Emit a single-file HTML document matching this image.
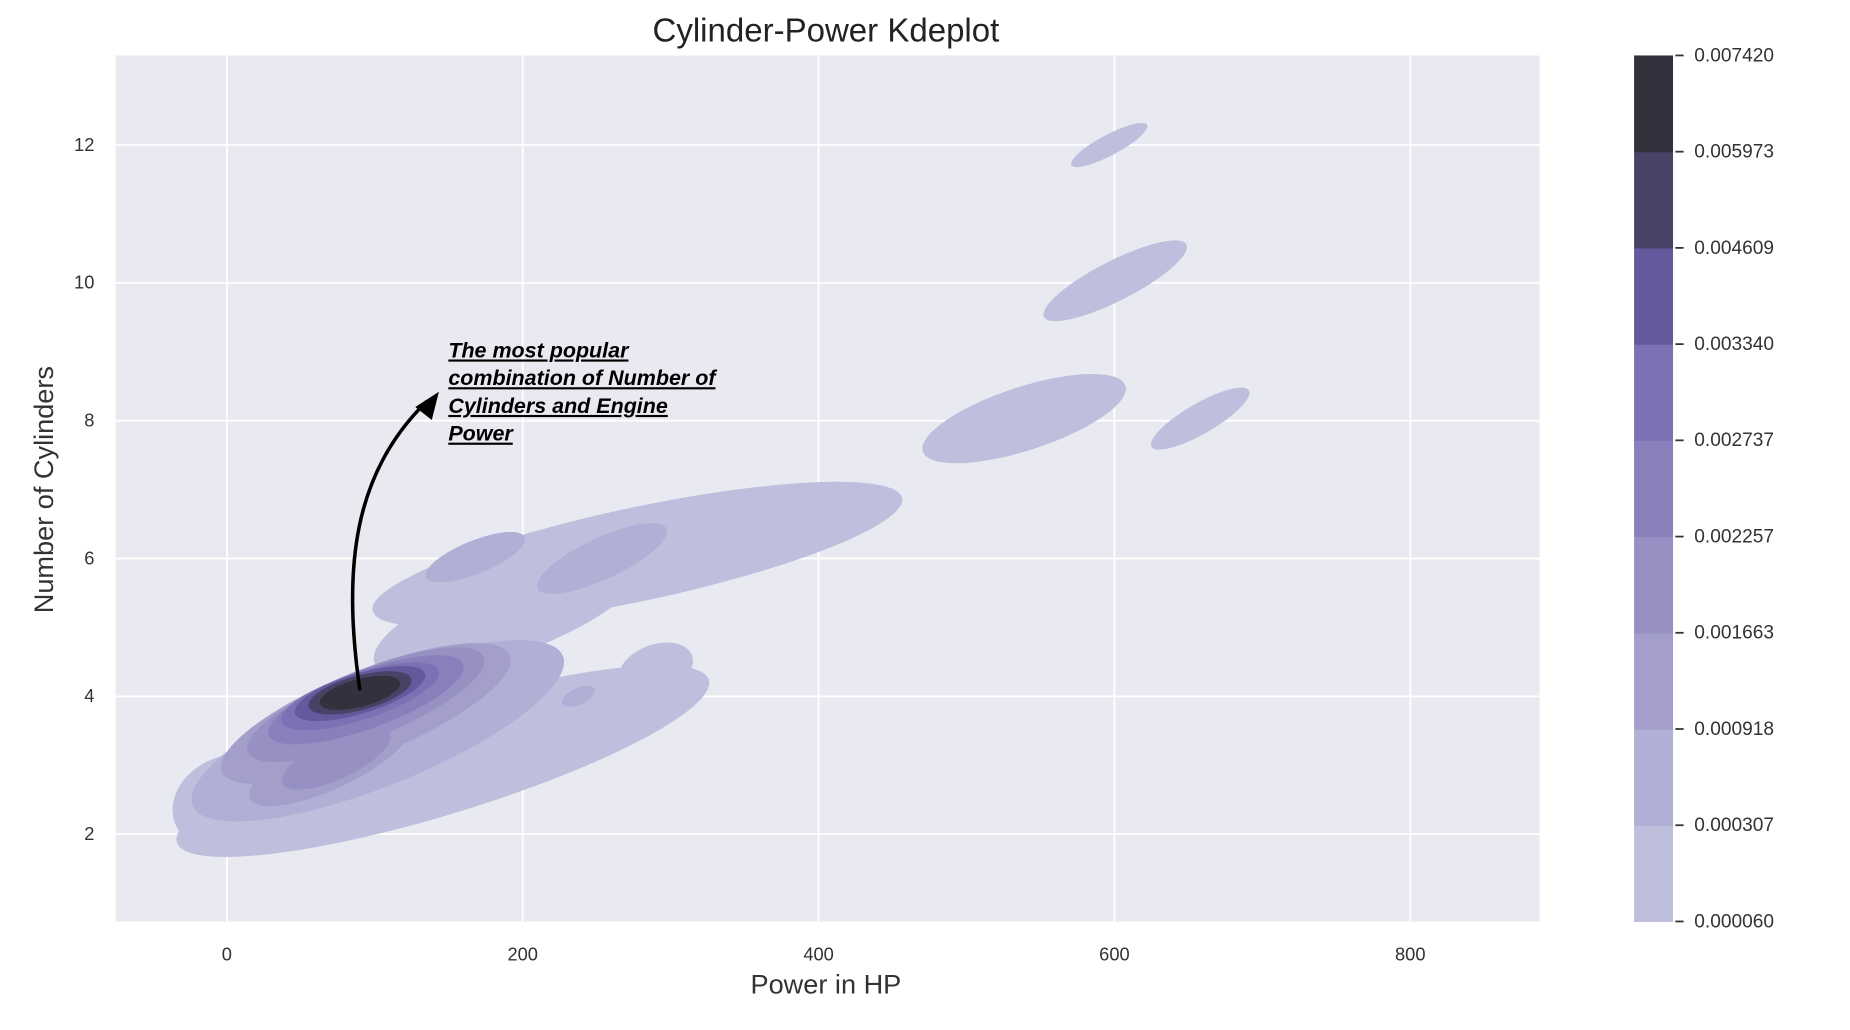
<!DOCTYPE html>
<html><head><meta charset="utf-8"><style>
html,body{margin:0;padding:0;background:#fff;}
svg{display:block;font-family:"Liberation Sans",sans-serif;}
</style></head><body>
<svg id="chart" width="1850" height="1030" viewBox="0 0 1568 873" preserveAspectRatio="none" xmlns="http://www.w3.org/2000/svg"></svg>
<script>
// ---- data ----
const xTicks = [0, 200, 400, 600, 800];
const yTicks = [2, 4, 6, 8, 10, 12];
const levelValues = ["0.000060","0.000307","0.000918","0.001663","0.002257","0.002737","0.003340","0.004609","0.005973","0.007420"];
const levelColors = ["#bebedd","#b1afd5","#a39fca","#9690c3","#8980bb","#7b71b4","#65599e","#4a4167","#33313e"];
// blobs: hp, cylinders, rx (HP), ry (cylinders), angle, level
const blobHp   = [146, 2.4, 277.5, 290, 190, 596.5, 600.5, 539, 658, 168, 253.6, 237.6, 102, 94, 70, 94, 74, 94, 90, 90, 90, 90];
const blobCyl  = [3.06, 2.46, 6.06, 4.4, 5.2, 12.0, 10.03, 8.03, 8.03, 6.02, 6.0, 4.0, 3.5, 3.75, 3.06, 3.88, 3.1, 3.95, 4.0, 4.04, 4.05, 4.05];
const blobRx   = [188, 40, 183, 26, 96, 29, 54, 72, 38, 36, 48, 12, 135, 105, 60, 86, 40, 70, 56, 46, 36, 28];
const blobRy   = [0.77, 0.68, 0.68, 0.35, 0.6, 0.15, 0.29, 0.46, 0.22, 0.24, 0.3, 0.12, 0.8, 0.62, 0.4, 0.5, 0.3, 0.42, 0.34, 0.29, 0.25, 0.2];
const blobAng  = [-17, -20, -12, -20, -20, -28, -27, -18, -30, -22, -25, -25, -22, -22, -25, -22, -25, -20, -18, -17, -15, -15];
const blobLvl  = [0, 0, 0, 0, 0, 0, 0, 0, 0, 1, 1, 1, 1, 2, 2, 3, 3, 4, 5, 6, 7, 8];

// ---- axes ----
const L=98,R=1305,T=47,B=781;
const xMin=-75.2,xMax=887.5,yMin=0.733,yMax=13.3;
const X=v=>L+(v-xMin)/(xMax-xMin)*(R-L);
const Y=v=>B-(v-yMin)/(yMax-yMin)*(B-T);
const NS="http://www.w3.org/2000/svg";
const svg=document.getElementById('chart');
function mk(tag,attrs,parent){const e=document.createElementNS(NS,tag);for(const k in attrs)e.setAttribute(k,attrs[k]);(parent||svg).appendChild(e);return e;}

const clip=mk('clipPath',{id:'plotclip'});
mk('rect',{x:L,y:T,width:R-L,height:B-T},clip);
const bg=mk('rect',{x:L,y:T,width:R-L,height:B-T,fill:'#e9e9f1'});


xTicks.forEach(t=>{
  const g=mk('line',{x1:X(t),x2:X(t),y1:T,y2:B,stroke:'#fff','stroke-width':1.5});
  
  
  const tx=mk('text',{x:X(t),y:B+33,'text-anchor':'middle','font-size':15.5,fill:'#333'});
  tx.textContent=t;
  
  
});
yTicks.forEach(t=>{
  const g=mk('line',{x1:L,x2:R,y1:Y(t),y2:Y(t),stroke:'#fff','stroke-width':1.5});
  
  
  const tx=mk('text',{x:L-18,y:Y(t)+5,'text-anchor':'end','font-size':15.5,fill:'#333'});
  tx.textContent=t;
  
  
});
const pxPerHp=(R-L)/(xMax-xMin), pxPerCyl=(B-T)/(yMax-yMin);
const cg=mk('g',{'clip-path':'url(#plotclip)'});
blobHp.forEach((h,i)=>{
  const cx=X(h),cy=Y(blobCyl[i]);
  const e=mk('ellipse',{cx:cx,cy:cy,rx:blobRx[i]*pxPerHp,ry:blobRy[i]*pxPerCyl,fill:levelColors[blobLvl[i]],transform:`rotate(${blobAng[i]} ${cx} ${cy})`},cg);
  
  
});
// colorbar
const cbL=1385,cbW=33,n=levelColors.length,segH=(B-T)/n;
levelColors.forEach((c,i)=>{
  const r=mk('rect',{x:cbL,y:B-(i+1)*segH,width:cbW,height:segH+0.5,fill:c});
  
  
});
levelValues.forEach((v,i)=>{
  const y=B-i*segH;
  const tk=mk('line',{x1:cbL+cbW+2,x2:cbL+cbW+9,y1:y,y2:y,stroke:'#333','stroke-width':1.5});
  
  
  const tx=mk('text',{x:cbL+cbW+18,y:y+5,'font-size':16.2,fill:'#333'});
  tx.textContent=v;
  
  
});
</script>
<script>
(function(){
const NS="http://www.w3.org/2000/svg",svg=document.getElementById('chart');
function mk(tag,attrs){const e=document.createElementNS(NS,tag);for(const k in attrs)e.setAttribute(k,attrs[k]);svg.appendChild(e);return e;}
const t=mk('text',{x:700,y:35,'text-anchor':'middle','font-size':28,fill:'#222'});t.textContent='Cylinder-Power Kdeplot';


const xl=mk('text',{x:700,y:842,'text-anchor':'middle','font-size':23,fill:'#333'});xl.textContent='Power in HP';


const yl=mk('text',{x:45,y:415,'text-anchor':'middle','font-size':23,fill:'#333',transform:'rotate(-90 45 415)'});yl.textContent='Number of Cylinders';


const a=mk('path',{d:'M305,585 C290,480 300,400 362,340',fill:'none',stroke:'#000','stroke-width':3});


const h=mk('polygon',{points:'372,332 352,345 366,356',fill:'#000'});


['The most popular','combination of Number of','Cylinders and Engine','Power'].forEach((s,i)=>{
  const tx=mk('text',{x:380,y:303+i*23.5,'font-size':18.2,'font-weight':'bold','font-style':'italic','text-decoration':'underline',fill:'#000'});
  tx.textContent=s;
  
  
});
})();
</script>
</body></html>
